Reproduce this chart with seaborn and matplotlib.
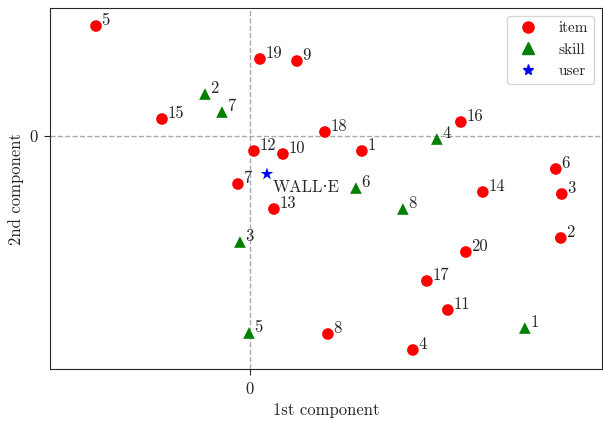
import numpy as np
import pandas as pd
import matplotlib
matplotlib.use("Agg")
import matplotlib.pyplot as plt
import seaborn as sns
from matplotlib.lines import Line2D

# item embeddings (2D projection)
item_ids = ["5", "19", "9", "15", "18", "16", "12", "10", "1", "6",
            "7", "14", "3", "13", "2", "20", "17", "11", "8", "4"]
item_x = [-1.54, 0.10, 0.47, -0.88, 0.75, 2.11, 0.04, 0.33, 1.12, 3.06,
          -0.12, 2.33, 3.12, 0.24, 3.11, 2.16, 1.77, 1.98, 0.78, 1.63]
item_y = [1.10, 0.77, 0.75, 0.17, 0.04, 0.14, -0.15, -0.18, -0.15, -0.33,
          -0.48, -0.56, -0.58, -0.73, -1.02, -1.16, -1.45, -1.74, -1.98, -2.14]

skill_ids = ["2", "7", "4", "6", "8", "3", "5", "1"]
skill_x = [-0.45, -0.28, 1.87, 1.06, 1.53, -0.10, -0.01, 2.75]
skill_y = [0.42, 0.24, -0.03, -0.52, -0.73, -1.06, -1.97, -1.92]

user_ids = ["WALL\u00b7E"]
user_x = [0.17]
user_y = [-0.38]

sns.set_style("ticks")
plt.rcParams["font.family"] = ["cmr10", "DejaVu Serif"]
plt.rcParams["mathtext.fontset"] = "cm"
plt.rcParams["axes.unicode_minus"] = False
plt.rcParams["font.size"] = 12

df = pd.DataFrame({
    "x": item_x + skill_x + user_x,
    "y": item_y + skill_y + user_y,
    "kind": ["item"] * len(item_x) + ["skill"] * len(skill_x) + ["user"] * len(user_x),
    "label": item_ids + skill_ids + user_ids,
})

fig = plt.figure(figsize=(6.03, 4.22), dpi=100)
ax = fig.add_axes([0.083, 0.1256, 0.915, 0.8554])

ax.axhline(0, color="#aaaaaa", linestyle="--", linewidth=1, zorder=0)
ax.axvline(0, color="#aaaaaa", linestyle="--", linewidth=1, zorder=0)

sns.scatterplot(data=df, x="x", y="y", hue="kind", style="kind",
                palette={"item": "red", "skill": "green", "user": "blue"},
                markers={"item": "o", "skill": "^", "user": "*"},
                size="kind", sizes={"item": 70, "skill": 70, "user": 90},
                linewidth=0, ax=ax, zorder=3, legend=False)

for _, r in df.iterrows():
    if r["kind"] == "user":
        ax.annotate(r["label"], (r["x"], r["y"]), xytext=(4, -13),
                    textcoords="offset points", fontsize=12)
    else:
        ax.annotate(r["label"], (r["x"], r["y"]), xytext=(4, 1),
                    textcoords="offset points", fontsize=12)

ax.set_xlim(-2.0, 3.52)
ax.set_ylim(-2.33, 1.28)
ax.set_xticks([0])
ax.set_yticks([0])
ax.set_xticklabels(["0"])
ax.set_yticklabels(["0"])
ax.tick_params(axis="both", length=4, pad=5, labelsize=12)
ax.set_xlabel("1st component", fontsize=12, labelpad=4)
ax.set_ylabel("2nd component", fontsize=12, labelpad=4)

handles = [
    Line2D([], [], linestyle="", marker="o", color="red", markersize=8),
    Line2D([], [], linestyle="", marker="^", color="green", markersize=8),
    Line2D([], [], linestyle="", marker="*", color="blue", markersize=8),
]
ax.legend(handles, ["item", "skill", "user"], loc="upper right",
          frameon=True, fontsize=11, handletextpad=1.0)

fig.savefig("out.png", dpi=100)
